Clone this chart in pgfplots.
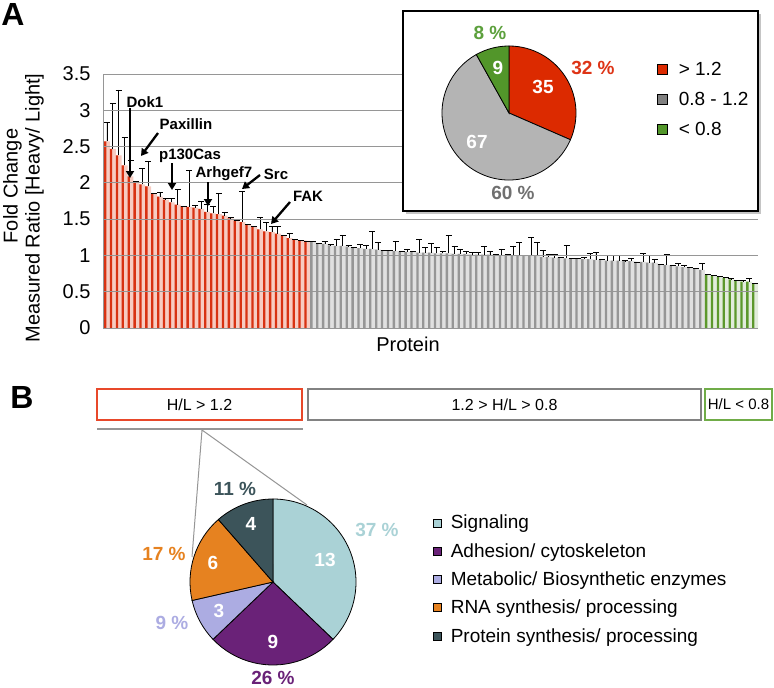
\documentclass[border=0pt]{standalone}
\usepackage{fontspec}
\setmainfont{Liberation Sans}
\usepackage{pgfplots}
\pgfplotsset{compat=1.18}
\usepackage{pgfplotstable}
\usetikzlibrary{arrows.meta,shadows}

\definecolor{reddk}{RGB}{216,50,18}
\definecolor{redlt}{RGB}{247,204,194}
\definecolor{graydk}{RGB}{150,150,150}
\definecolor{graylt}{RGB}{224,224,224}
\definecolor{greendk}{RGB}{92,152,44}
\definecolor{greenlt}{RGB}{226,236,220}
\definecolor{axgray}{RGB}{150,150,150}
\definecolor{pieRed}{RGB}{220,42,0}
\definecolor{pieGray}{RGB}{180,180,180}
\definecolor{pieGreen}{RGB}{82,150,42}
\definecolor{txtRed}{RGB}{222,52,22}
\definecolor{txtGray}{RGB}{112,112,112}
\definecolor{txtGreen}{RGB}{92,160,60}
\definecolor{legGray}{RGB}{128,128,128}
\definecolor{cSig}{RGB}{170,210,214}
\definecolor{cAdh}{RGB}{106,34,120}
\definecolor{cMet}{RGB}{172,172,226}
\definecolor{cRNA}{RGB}{230,130,32}
\definecolor{cPro}{RGB}{60,84,90}
\definecolor{boxRed}{RGB}{232,72,42}
\definecolor{boxGray}{RGB}{130,130,130}
\definecolor{boxGreen}{RGB}{112,172,72}

\pgfplotstableread{
x y e
1 2.57 0.27
2 2.47 0.62
3 2.38 0.90
4 2.24 0.39
5 2.09 0.22
6 2.02 0.00
7 1.98 0.22
8 1.95 0.35
9 1.85 0.01
10 1.81 0.06
11 1.77 0.02
12 1.73 0.05
13 1.70 0.21
14 1.68 0.00
15 1.67 0.50
16 1.66 0.03
17 1.64 0.10
18 1.60 0.10
19 1.58 0.09
20 1.57 0.29
21 1.55 0.04
22 1.51 0.01
23 1.48 0.00
24 1.46 0.42
25 1.42 0.01
26 1.39 0.01
27 1.36 0.16
28 1.33 0.12
29 1.32 0.08
30 1.30 0.10
31 1.27 0.01
32 1.24 0.06
33 1.21 0.01
34 1.21 0.00
35 1.20 0.00
}\redtab

\pgfplotstableread{
x y e
36 1.19 0.01
37 1.17 0.00
38 1.16 0.03
39 1.14 0.01
40 1.13 0.09
41 1.13 0.14
42 1.12 0.02
43 1.10 0.01
44 1.10 0.05
45 1.09 0.05
46 1.09 0.24
47 1.08 0.10
48 1.07 0.00
49 1.06 0.01
50 1.06 0.13
51 1.05 0.01
52 1.05 0.04
53 1.05 0.01
54 1.04 0.18
55 1.04 0.07
56 1.04 0.12
57 1.03 0.08
58 1.03 0.03
59 1.03 0.24
60 1.02 0.11
61 1.02 0.07
62 1.02 0.04
63 1.01 0.03
64 1.01 0.03
65 1.01 0.12
66 1.01 0.05
67 1.00 0.02
68 1.00 0.09
69 1.00 0.01
70 0.99 0.14
71 0.99 0.19
72 0.99 0.01
73 0.99 0.26
74 0.99 0.19
75 0.98 0.09
76 0.98 0.04
77 0.97 0.05
78 0.97 0.00
79 0.96 0.18
80 0.96 0.00
81 0.96 0.00
82 0.95 0.02
83 0.95 0.08
84 0.94 0.10
85 0.94 0.00
86 0.93 0.07
87 0.93 0.07
88 0.93 0.07
89 0.92 0.01
90 0.92 0.04
91 0.91 0.00
92 0.91 0.12
93 0.90 0.10
94 0.90 0.04
95 0.88 0.00
96 0.87 0.14
97 0.86 0.00
98 0.85 0.04
99 0.84 0.02
100 0.83 0.00
101 0.81 0.01
102 0.80 0.09
}\graytab

\pgfplotstableread{
x y e
103 0.73 0.01
104 0.72 0.01
105 0.70 0.01
106 0.69 0.01
107 0.67 0.01
108 0.66 0.00
109 0.64 0.01
110 0.64 0.04
111 0.61 0.01
}\greentab

\pgfplotsset{
  errstyle/.style={error bars/.cd, y dir=plus, y explicit,
    error bar style={black, line width=0.8pt},
    error mark options={black, rotate=90, mark size=3pt, line width=0.8pt}},
}

\begin{document}
\begin{tikzpicture}[x=1pt,y=1pt]
\path[use as bounding box] (0,0) rectangle (774,-688);

\begin{scope}[shift={(104,-328)}]
\begin{axis}[
  at={(0,0)}, anchor=south west,
  scale only axis, width=654pt, height=254pt,
  xmin=0.5, xmax=111.5, ymin=0, ymax=3.5,
  axis line style={draw=none},
  xtick=\empty, ytick={0,0.5,1,1.5,2,2.5,3,3.5},
  major tick length=0pt,
  ymajorgrids, grid style={axgray, line width=1pt},
  axis on top,
  /pgf/number format/assume math mode=true,
  yticklabel style={font=\fontsize{20}{24}\selectfont, xshift=-10pt},
  xlabel={Protein},
  xlabel style={font=\fontsize{20}{24}\selectfont, xshift=-23pt, yshift=-5pt},
  ylabel={\hspace*{44pt}Fold Change\\Measured Ratio [Heavy/ Light]},
  ylabel style={font=\fontsize{20}{22}\selectfont, align=center, xshift=-7pt, yshift=12pt},
  clip=false,
]
\addplot[ybar, bar width=5.9pt, bar shift=0pt, fill=redlt, draw=none] table[x=x,y=y]{\redtab};
\addplot[ybar, bar width=2.3pt, bar shift=-1.8pt, fill=reddk, draw=none, errstyle]
  table[x=x,y=y,y error=e]{\redtab};
\addplot[ybar, bar width=5.9pt, bar shift=0pt, fill=graylt, draw=none] table[x=x,y=y]{\graytab};
\addplot[ybar, bar width=2.3pt, bar shift=-1.8pt, fill=graydk, draw=none, errstyle]
  table[x=x,y=y,y error=e]{\graytab};
\addplot[ybar, bar width=5.9pt, bar shift=0pt, fill=greenlt, draw=none] table[x=x,y=y]{\greentab};
\addplot[ybar, bar width=2.3pt, bar shift=-1.8pt, fill=greendk, draw=none, errstyle]
  table[x=x,y=y,y error=e]{\greentab};
\draw[axgray, line width=1pt] (rel axis cs:0,1) -- (rel axis cs:0,0) -- (rel axis cs:1,0);
\end{axis}
\end{scope}

% panel letters
\node[font=\fontsize{32}{32}\selectfont\bfseries] at (13,-14) {A};
\node[font=\fontsize{32}{32}\selectfont\bfseries] at (22,-397) {B};

% annotations
\begin{scope}[font=\fontsize{15}{15}\selectfont\bfseries]
\node at (145,-102) {Dok1};
\node at (186,-124) {Paxillin};
\node at (190,-156) {p130Cas};
\node at (224,-174) {Arhgef7};
\node at (276,-174) {Src};
\node at (308,-196) {FAK};
\end{scope}
\begin{scope}[line width=2.3pt, -{Triangle[length=7pt,width=8pt]}]
\draw (130,-108) -- (130,-178);
\draw (158,-133) -- (141,-156);
\draw (172,-163) -- (172,-190);
\draw (208,-182) -- (208,-206);
\draw (260,-175) -- (242,-189);
\draw (290,-202) -- (271,-224);
\end{scope}

% inset pie
\pgfmathsetmacro\iA{90-35/111*360}
\pgfmathsetmacro\iB{\iA-67/111*360}
\pgfmathsetmacro\iC{\iB-9/111*360}
\begin{axis}[
  at={(403,-211)}, anchor=south west,
  scale only axis, width=355pt, height=200pt,
  xmin=0, xmax=355, ymin=0, ymax=200,
  xtick=\empty, ytick=\empty,
  axis line style={black, line width=1.2pt},
  axis background/.style={fill=white, drop shadow={shadow xshift=3pt, shadow yshift=-3pt, fill=black!45}},
  legend style={at={(axis cs:254,151)}, anchor=north west, draw=none, fill=none,
    font=\fontsize{19}{19}\selectfont, row sep=11pt, inner sep=0pt},
  legend cell align=left,
  legend image code/.code={\draw[#1] (0pt,-5pt) rectangle (10pt,5pt); \path (19pt,0pt);},
  clip=false,
]
\addlegendimage{fill=pieRed, draw=black, line width=0.6pt}
\addlegendimage{fill=legGray, draw=black, line width=0.6pt}
\addlegendimage{fill=pieGreen, draw=black, line width=0.6pt}
\legend{> 1.2, 0.8 - 1.2, < 0.8}
\filldraw[fill=pieRed, draw=black, line width=0.8pt] (axis cs:106,98) -- ++(90:67pt) arc[start angle=90, end angle=\iA, radius=67pt] -- cycle;
\filldraw[fill=pieGray, draw=black, line width=0.8pt] (axis cs:106,98) -- ++(\iA:67pt) arc[start angle=\iA, end angle=\iB, radius=67pt] -- cycle;
\filldraw[fill=pieGreen, draw=black, line width=0.8pt] (axis cs:106,98) -- ++(\iB:67pt) arc[start angle=\iB, end angle=\iC, radius=67pt] -- cycle;
\begin{scope}[font=\fontsize{19}{19}\selectfont\bfseries]
\node[text=white] at (axis cs:140,124) {35};
\node[text=white] at (axis cs:74,69) {67};
\node[text=white] at (axis cs:95,143) {9};
\node[text=txtRed] at (axis cs:190,143) {32 \%};
\node[text=txtGray] at (axis cs:110,18) {60 \%};
\node[text=txtGreen] at (axis cs:87,178) {8 \%};
\end{scope}
\end{axis}

% B header boxes
\draw[boxRed, line width=1.3pt] (97,-389) rectangle (302,-420);
\node[font=\fontsize{16}{16}\selectfont] at (199.5,-404.5) {H/L > 1.2};
\draw[boxGray, line width=1.3pt] (308,-389) rectangle (701,-420);
\node[font=\fontsize{16}{16}\selectfont] at (504.5,-404.5) {1.2 > H/L > 0.8};
\draw[boxGreen, line width=1.3pt] (705,-389) rectangle (772,-420);
\node[font=\fontsize{15}{15}\selectfont] at (738.5,-404.5) {H/L < 0.8};
\draw[axgray, line width=1.3pt] (97,-429) -- (303,-429);
\draw[axgray, line width=1pt] (192,-557) -- (202,-430) -- (307,-505);

% B pie
\pgfmathsetmacro\bA{90-13/35*360}
\pgfmathsetmacro\bB{\bA-9/35*360}
\pgfmathsetmacro\bC{\bB-3/35*360}
\pgfmathsetmacro\bD{\bC-6/35*360}
\pgfmathsetmacro\bE{\bD-4/35*360}
\begin{axis}[
  at={(0,-688)}, anchor=south west,
  scale only axis, width=774pt, height=250pt,
  xmin=0, xmax=774, ymin=0, ymax=250,
  hide axis, clip=false,
  legend style={at={(axis cs:433,175)}, anchor=north west, draw=none, fill=none,
    font=\fontsize{19}{19}\selectfont, row sep=9pt, inner sep=0pt},
  legend cell align=left,
  legend image code/.code={\draw[#1] (0pt,-4pt) rectangle (8pt,4pt); \path (15pt,0pt);},
]
\addlegendimage{fill=cSig, draw=black, line width=0.6pt}
\addlegendimage{fill=cAdh, draw=black, line width=0.6pt}
\addlegendimage{fill=cMet, draw=black, line width=0.6pt}
\addlegendimage{fill=cRNA, draw=black, line width=0.6pt}
\addlegendimage{fill=cPro, draw=black, line width=0.6pt}
\legend{Signaling, Adhesion/ cytoskeleton, Metabolic/ Biosynthetic enzymes, RNA synthesis/ processing, Protein synthesis/ processing}
\filldraw[fill=cSig, draw=black, line width=0.8pt] (axis cs:273,106) -- ++(90:83pt) arc[start angle=90, end angle=\bA, radius=83pt] -- cycle;
\filldraw[fill=cAdh, draw=black, line width=0.8pt] (axis cs:273,106) -- ++(\bA:83pt) arc[start angle=\bA, end angle=\bB, radius=83pt] -- cycle;
\filldraw[fill=cMet, draw=black, line width=0.8pt] (axis cs:273,106) -- ++(\bB:83pt) arc[start angle=\bB, end angle=\bC, radius=83pt] -- cycle;
\filldraw[fill=cRNA, draw=black, line width=0.8pt] (axis cs:273,106) -- ++(\bC:83pt) arc[start angle=\bC, end angle=\bD, radius=83pt] -- cycle;
\filldraw[fill=cPro, draw=black, line width=0.8pt] (axis cs:273,106) -- ++(\bD:83pt) arc[start angle=\bD, end angle=\bE, radius=83pt] -- cycle;
\begin{scope}[font=\fontsize{19}{19}\selectfont\bfseries]
\node[text=white] at (axis cs:325,128) {13};
\node[text=white] at (axis cs:273,46) {9};
\node[text=white] at (axis cs:219,77) {3};
\node[text=white] at (axis cs:213,125) {6};
\node[text=white] at (axis cs:251,164) {4};
\node[text=cSig] at (axis cs:377,158) {37 \%};
\node[text=cAdh] at (axis cs:273,10) {26 \%};
\node[text=cMet] at (axis cs:172,65) {9 \%};
\node[text=cRNA] at (axis cs:164,134) {17 \%};
\node[text=cPro] at (axis cs:235,199) {11 \%};
\end{scope}
\end{axis}
\end{tikzpicture}
\end{document}
